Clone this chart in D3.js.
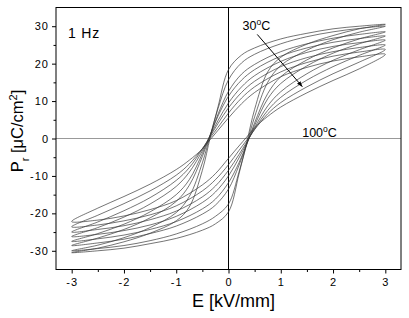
<!DOCTYPE html>
<html>
<head>
<meta charset="utf-8">
<script src="https://cdn.jsdelivr.net/npm/d3@7"></script>
<style>
  body { margin: 0; background: #fff; }
  text { font-family: "Liberation Sans", Arial, sans-serif; fill: #000; }
</style>
</head>
<body>
<div id="plot"></div>
<script>
// temperatures of the loops (outer, square loop = 30 C ... slim loop = 100 C)
const temps = [30, 40, 50, 60, 70, 80, 90, 100];

// field grid for the descending (upper) and ascending (lower) branches, kV/mm
const eDown = [3, 2.5, 2, 1.5, 1, 0.5, 0.25, 0, -0.2, -0.35, -0.5, -0.75, -1, -1.5, -2, -2.5, -3];
const eUp = [-3, -2.5, -2, -1.5, -1, -0.5, -0.25, 0, 0.2, 0.35, 0.5, 0.75, 1, 1.5, 2, 2.5, 3];

// polarisation on the upper branch, uC/cm2, one row per temperature
const upperBranches = [
  [30.5, 30.0, 29.3, 28.1, 26.6, 24.2, 22.3, 18.4, 8.5, 0.3, -8.5, -18.3, -22.0, -25.3, -27.6, -29.3, -30.5],
  [30.0, 29.4, 28.5, 27.2, 25.3, 22.5, 20.2, 15.7, 8.0, 0.8, -6.5, -15.5, -19.8, -23.8, -26.5, -28.5, -30.0],
  [28.5, 27.8, 26.8, 25.3, 23.2, 19.8, 17.2, 12.6, 6.5, 0.9, -4.8, -12.5, -16.8, -21.2, -24.3, -26.6, -28.6],
  [27.4, 26.7, 25.7, 24.2, 22.0, 18.4, 15.6, 11.3, 6.0, 1.0, -4.0, -11.0, -15.0, -19.6, -22.9, -25.4, -27.5],
  [26.3, 25.6, 24.6, 23.0, 20.6, 16.8, 13.8, 9.5, 4.8, 0.8, -3.3, -9.0, -12.8, -17.5, -21.0, -23.8, -26.2],
  [25.0, 24.3, 23.2, 21.6, 19.2, 15.3, 12.3, 8.2, 4.0, 0.6, -2.8, -7.8, -11.2, -15.8, -19.3, -22.3, -25.0],
  [23.8, 23.1, 22.0, 20.3, 17.8, 13.8, 10.8, 6.8, 3.0, 0.2, -2.7, -6.8, -9.8, -14.0, -17.4, -20.5, -23.6],
  [22.5, 21.8, 20.7, 19.0, 16.5, 12.3, 9.3, 5.5, 2.2, -0.3, -2.8, -5.8, -8.3, -12.2, -15.5, -18.6, -22.2]
];

// polarisation on the lower branch
const lowerBranches = [
  [-30.5, -30.0, -29.3, -28.1, -26.7, -24.5, -22.8, -19.6, -9.5, -1.0, 7.8, 17.8, 21.7, 25.2, 27.5, 29.3, 30.5],
  [-30.0, -29.4, -28.6, -27.3, -25.5, -22.8, -20.8, -17.5, -9.0, -1.5, 5.8, 15.0, 19.5, 23.6, 26.4, 28.4, 30.0],
  [-28.6, -27.9, -26.9, -25.4, -23.4, -20.2, -17.8, -13.5, -7.2, -1.5, 4.2, 12.0, 16.5, 21.0, 24.2, 26.6, 28.5],
  [-27.5, -26.8, -25.8, -24.3, -22.2, -18.8, -16.2, -11.8, -6.5, -1.5, 3.5, 10.6, 14.7, 19.4, 22.8, 25.3, 27.4],
  [-26.2, -25.6, -24.6, -23.1, -20.8, -17.1, -14.3, -10.0, -5.2, -1.2, 2.9, 8.7, 12.5, 17.3, 20.9, 23.7, 26.3],
  [-25.0, -24.3, -23.3, -21.7, -19.4, -15.6, -12.7, -8.5, -4.3, -0.9, 2.5, 7.5, 11.0, 15.6, 19.2, 22.2, 25.0],
  [-23.7, -23.1, -22.0, -20.4, -18.0, -14.0, -11.0, -7.0, -3.2, -0.4, 2.4, 6.6, 9.6, 13.8, 17.3, 20.4, 23.8],
  [-22.3, -21.8, -20.7, -19.0, -16.6, -12.4, -9.4, -5.3, -2.0, 0.4, 2.9, 5.9, 8.4, 12.2, 15.5, 18.6, 22.5]
];

const xMajor = [-3, -2, -1, 0, 1, 2, 3];
const xMinor = [-2.5, -1.5, -0.5, 0.5, 1.5, 2.5];
const yMajor = [-30, -20, -10, 0, 10, 20, 30];
const yMinor = [-25, -15, -5, 5, 15, 25];

// arrow from the 30 C label towards the 100 C loop, in data units
const arrowFrom = [0.55, 27.8];
const arrowTo = [1.41, 13.9];

let [svgWidth, svgHeight] = [409, 318];
let [plotL, plotR, plotT, plotB] = [56, 401, 7.5, 269.5];

let svg = d3.select('#plot').append('svg')
  .attr('width', svgWidth)
  .attr('height', svgHeight);

let xsc = d3.scaleLinear().domain([-3.3, 3.3]).range([plotL, plotR]);
let ysc = d3.scaleLinear().domain([-35, 35]).range([plotB, plotT]);

// zero lines
svg.append('line')
  .attr('x1', plotL).attr('x2', plotR)
  .attr('y1', ysc(0)).attr('y2', ysc(0))
  .attr('stroke', '#999').attr('stroke-width', 1);
svg.append('line')
  .attr('x1', xsc(0)).attr('x2', xsc(0))
  .attr('y1', plotT).attr('y2', plotB)
  .attr('stroke', '#000').attr('stroke-width', 1);

// loops
let line = d3.line()
  .x(d => xsc(d[0]))
  .y(d => ysc(d[1]))
  .curve(d3.curveCatmullRomClosed.alpha(0.5));

let loops = temps.map((t, i) => {
  let up = eDown.map((e, j) => [e, upperBranches[i][j]]);
  let low = eUp.map((e, j) => [e, lowerBranches[i][j]]).slice(1, -1);
  return up.concat(low);
});

svg.append('g').selectAll('path')
  .data(loops)
  .join('path')
    .attr('d', line)
    .attr('fill', 'none')
    .attr('stroke', '#3a3a3a')
    .attr('stroke-width', 0.7);

// axes, plain hyphen minus as in the original
let fmt = d => String(d);
svg.append('g')
  .attr('transform', `translate(0,${plotB})`)
  .call(d3.axisBottom(xsc).tickValues(xMajor).tickFormat(fmt).tickSize(4).tickSizeOuter(0).tickPadding(5));
svg.append('g')
  .attr('transform', `translate(0,${plotB})`)
  .call(d3.axisBottom(xsc).tickValues(xMinor).tickSize(2.5).tickSizeOuter(0).tickFormat(''));
svg.append('g')
  .attr('transform', `translate(${plotL},0)`)
  .call(d3.axisLeft(ysc).tickValues(yMajor).tickFormat(fmt).tickSize(4).tickSizeOuter(0).tickPadding(3));
svg.append('g')
  .attr('transform', `translate(${plotL},0)`)
  .call(d3.axisLeft(ysc).tickValues(yMinor).tickSize(2.5).tickSizeOuter(0).tickFormat(''));

svg.selectAll('.domain').remove();
svg.selectAll('.tick line').attr('stroke', '#000');
svg.selectAll('.tick text')
  .style('font-family', '"Liberation Sans", Arial, sans-serif')
  .style('font-size', '11px')
  .style('letter-spacing', '1px');

// frame
svg.append('rect')
  .attr('x', plotL).attr('y', plotT)
  .attr('width', plotR - plotL).attr('height', plotB - plotT)
  .attr('fill', 'none').attr('stroke', '#000').attr('stroke-width', 1);

// axis titles
svg.append('text')
  .attr('x', (plotL + plotR) / 2 + 5).attr('y', 307)
  .attr('text-anchor', 'middle')
  .style('font-size', '18px')
  .text('E [kV/mm]');

let yTitle = svg.append('text')
  .attr('transform', `translate(23,${131}) rotate(-90)`)
  .attr('text-anchor', 'middle')
  .style('font-size', '16.5px');
yTitle.append('tspan').text('P');
yTitle.append('tspan').attr('baseline-shift', 'sub').style('font-size', '11px').text('r');
yTitle.append('tspan').text(' [\u03BCC/cm');
yTitle.append('tspan').attr('baseline-shift', 'super').style('font-size', '11px').text('2');
yTitle.append('tspan').text(']');

// annotations
svg.append('text')
  .attr('x', 68).attr('y', 38)
  .style('font-size', '14px')
  .style('letter-spacing', '0.8px')
  .text('1 Hz');

function tempLabel(x, y, value){
  let t = svg.append('text').attr('x', x).attr('y', y).style('font-size', '12.5px');
  t.append('tspan').text(value);
  t.append('tspan').attr('baseline-shift', 'super').style('font-size', '8.5px').text('o');
  t.append('tspan').text('C');
}
tempLabel(xsc(0.27), 30, '30');
tempLabel(xsc(1.41), 137, '100');

svg.append('defs').append('marker')
  .attr('id', 'head')
  .attr('viewBox', '0 0 10 10')
  .attr('refX', 9).attr('refY', 5)
  .attr('markerWidth', 6).attr('markerHeight', 6)
  .attr('orient', 'auto')
  .append('path').attr('d', 'M0,1.5 L10,5 L0,8.5 Z').attr('fill', '#000');

svg.append('line')
  .attr('x1', xsc(arrowFrom[0])).attr('y1', ysc(arrowFrom[1]))
  .attr('x2', xsc(arrowTo[0])).attr('y2', ysc(arrowTo[1]))
  .attr('stroke', '#000').attr('stroke-width', 1)
  .attr('marker-end', 'url(#head)');
</script>
</body>
</html>
